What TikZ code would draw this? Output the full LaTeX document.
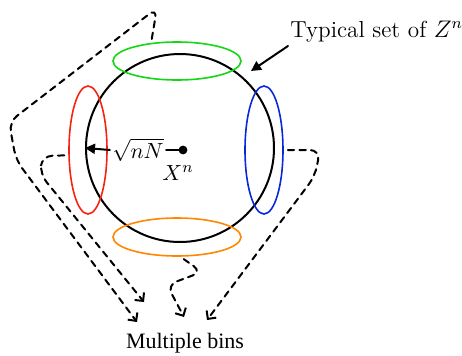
\documentclass[tikz,border=0pt]{standalone}
\usepackage{fontspec}
\newfontfamily\binsfont{Liberation Serif}
\usepackage{tikz}
\usetikzlibrary{arrows.meta,shapes.geometric}
\definecolor{setgreen}{RGB}{20,215,20}
\definecolor{setred}{RGB}{245,35,15}
\definecolor{setblue}{RGB}{10,40,215}
\definecolor{setorange}{RGB}{255,135,0}
\begin{document}
\begin{tikzpicture}[x=0.5pt,y=-0.5pt,line cap=round,font=\fontsize{11}{13}\selectfont,
  bin/.style={draw,ellipse,inner sep=0pt,line width=0.8pt},
  flat/.style={bin,minimum width=64pt,minimum height=19pt},
  tall/.style={bin,minimum width=19pt,minimum height=64pt},
  binarr/.style={line width=1pt,dash pattern=on 3.2pt off 2.6pt,rounded corners=5pt,
    shorten <=2pt,-{Straight Barb[length=3pt,width=6pt]}},
  solidarr/.style={line width=1pt,-{Triangle[length=5pt,width=5pt]}}]
\useasboundingbox (0,0) rectangle (462,355);
\node[draw,circle,line width=1pt,minimum size=94pt,inner sep=0pt] (typset) at (180,148) {};
\node[flat,setgreen] (gbin) at (177,61) {};
\node[tall,setred] (rbin) at (88,150) {};
\node[tall,setblue] (bbin) at (264,150) {};
\node[flat,setorange] (obin) at (177,237) {};
\fill (183,150) circle (2.2pt) coordinate (xn);
\node (xlab) at (178,173) {$X^n$};
\node[inner sep=1pt] (rad) at (138,150) {$\sqrt{nN}$};
\draw[line width=1pt] (xn) -- (rad.east);
\draw[solidarr] (rad.west) -- (typset.west);
\node[anchor=base west,inner sep=0pt,font=\fontsize{11.6}{14}\selectfont] (typ) at (290,37) {Typical set of $Z^n$};
\coordinate (tip) at (251,71);
\draw[solidarr] (288,46) -- (tip);
\node (bins) at (185,343) {\binsfont Multiple bins};
% arrow ends above the label
\coordinate (b1) at (137,322);
\coordinate (b2) at (144,302);
\coordinate (b3) at (184,317);
\coordinate (b4) at (207,320);
\draw[binarr] (gbin.145) -- (157,8) -- (9,122) -- (16,160) -- (b1);
\draw[binarr] (rbin.195) -- (42,156) -- (40,174) -- (b2);
\draw[binarr] (obin.280) -- (202,272) -- (167,285) -- (b3);
\draw[binarr] (bbin.east) -- (320,150) -- (315,176) -- (b4);
\end{tikzpicture}
\end{document}
